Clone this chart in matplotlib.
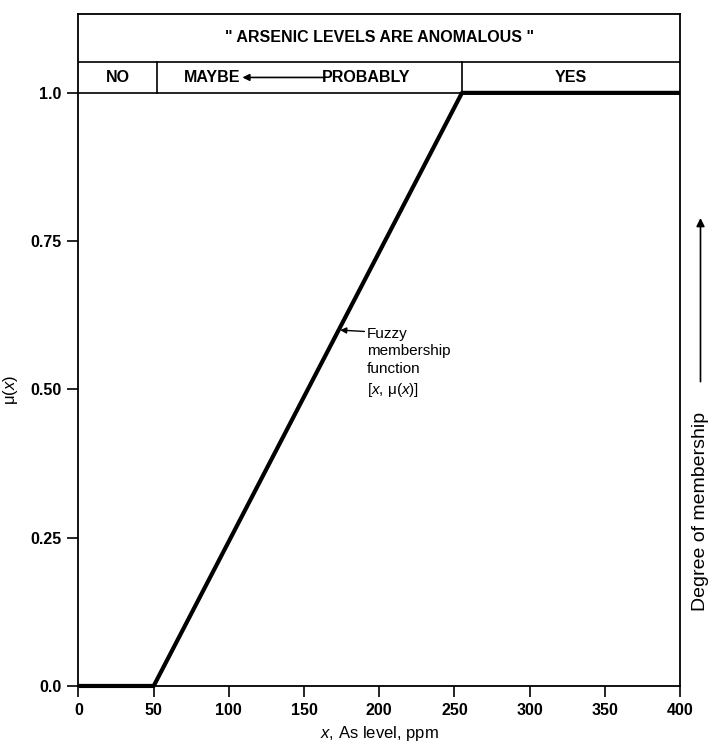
import matplotlib
matplotlib.use('Agg')
import matplotlib.pyplot as plt

# membership function breakpoints (ppm, mu)
x_ppm = [0, 50, 255, 400]
mu = [0.0, 0.0, 1.0, 1.0]

x_ticks = [0, 50, 100, 150, 200, 250, 300, 350, 400]
y_ticks = [0.0, 0.25, 0.50, 0.75, 1.0]
y_tick_labels = ['0.0', '0.25', '0.50', '0.75', '1.0']

header = '" ARSENIC LEVELS ARE ANOMALOUS "'
no_end = 52       # NO | MAYBE divider
yes_start = 255   # PROBABLY | YES divider

plt.rcParams['font.family'] = ['Liberation Sans', 'DejaVu Sans']
plt.rcParams['mathtext.fontset'] = 'custom'
plt.rcParams['mathtext.it'] = 'Liberation Sans:italic'
plt.rcParams['mathtext.rm'] = 'Liberation Sans'

fig = plt.figure(figsize=(7.09, 7.44), dpi=100)
ax = fig.add_axes([0.1107, 0.078, 0.8484, 0.9032])

ax.plot(x_ppm, mu, color='black', lw=3, solid_capstyle='butt', clip_on=False, zorder=3)

ax.set_xlim(0, 400)
ax.set_ylim(0, 1.133)
ax.set_xticks(x_ticks)
ax.set_yticks(y_ticks)
ax.set_yticklabels(y_tick_labels)
ax.tick_params(direction='out', length=8, width=1.2, labelsize=11.5, pad=4)
for lab in ax.get_xticklabels() + ax.get_yticklabels():
    lab.set_fontweight('bold')
for sp in ax.spines.values():
    sp.set_linewidth(1.3)

# header boxes
top_row = 1.052
ax.axhline(1.0, color='black', lw=1.2)
ax.axhline(top_row, color='black', lw=1.2)
ax.plot([no_end, no_end], [1.0, top_row], color='black', lw=1.2)
ax.plot([yes_start, yes_start], [1.0, top_row], color='black', lw=1.2)

ax.text(200, 1.093, header, ha='center', va='center', fontsize=11.5, fontweight='bold')
mid = 1.026
ax.text(no_end / 2, mid, 'NO', ha='center', va='center', fontsize=11.5, fontweight='bold')
ax.text((yes_start + 400) / 2, mid, 'YES', ha='center', va='center', fontsize=11.5, fontweight='bold')
ax.text(70, mid, 'MAYBE', ha='left', va='center', fontsize=11.5, fontweight='bold')
ax.text(162, mid, 'PROBABLY', ha='left', va='center', fontsize=11.5, fontweight='bold')
ax.annotate('', xy=(109, mid), xytext=(164, mid),
            arrowprops=dict(arrowstyle='-|>', color='black', lw=1.2, mutation_scale=10,
                            shrinkA=0, shrinkB=0))

# annotation of the curve
ax.annotate('Fuzzy\nmembership\nfunction\n[$x$, μ($x$)]', xy=(174, 0.6), xytext=(192, 0.606),
            ha='left', va='top', fontsize=11, linespacing=1.35,
            arrowprops=dict(arrowstyle='-|>', color='black', lw=1, mutation_scale=9,
                            shrinkA=0, shrinkB=0, relpos=(0, 0.93)))

ax.set_xlabel('$x$, As level, ppm', fontsize=12)
ax.xaxis.set_label_coords(0.5, -0.057)
ax.set_ylabel('μ($x$)', fontsize=12)
ax.yaxis.set_label_coords(-0.097, 0.441)

# right-hand label with upward arrow
fig.text(0.988, 0.312, 'Degree of membership', rotation=90, ha='center', va='center',
         fontsize=14)
ax.annotate('', xy=(0.988, 0.707), xycoords='figure fraction',
            xytext=(0.988, 0.487), textcoords='figure fraction',
            arrowprops=dict(arrowstyle='-|>', color='black', lw=1.2, mutation_scale=12,
                            shrinkA=0, shrinkB=0), annotation_clip=False)

fig.savefig('out.png', dpi=100)
